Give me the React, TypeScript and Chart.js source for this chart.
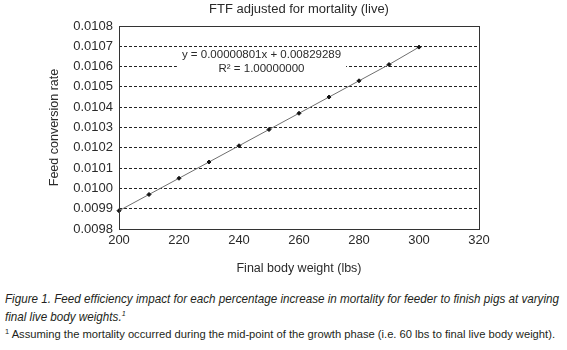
import React, { useEffect, useRef } from "react";
import { Chart, registerables } from "chart.js";

Chart.register(...registerables);

const weights = [200, 210, 220, 230, 240, 250, 260, 270, 280, 290, 300];
const fcr = [0.00989, 0.00997, 0.01005, 0.01013, 0.01021, 0.01029, 0.01037, 0.01045, 0.01053, 0.01061, 0.010696];
const yTicks = [0.0098, 0.0099, 0.01, 0.0101, 0.0102, 0.0103, 0.0104, 0.0105, 0.0106, 0.0107, 0.0108];
const xTicks = [200, 220, 240, 260, 280, 300, 320];
const titleText = "FTF adjusted for mortality (live)";
const equationLines = ["y = 0.00000801x + 0.00829289", "R\u00b2 = 1.00000000"];
const equationAnchor = { x: 247.5, y1: 0.0106575, y2: 0.0105872 };
const xTitle = "Final body weight (lbs)";
const yTitle = "Feed conversion rate";
const captionLine1 = "Figure 1. Feed efficiency impact for each percentage increase in mortality for feeder to finish pigs at varying";
const captionLine2 = "final live body weights.";
const footnote = " Assuming the mortality occurred during the mid-point of the growth phase (i.e. 60 lbs to final live body weight).";

const TEXT = "#2a2a2a";
const FONT = "'Liberation Sans', Arial, sans-serif";

export default function App() {
  const ref = useRef<HTMLCanvasElement | null>(null);
  const l1 = useRef<HTMLSpanElement | null>(null);
  const l2 = useRef<HTMLSpanElement | null>(null);
  const l3 = useRef<HTMLSpanElement | null>(null);

  useEffect(() => {
    document.body.style.margin = "0";
    // condense caption lines to match the narrow typeface of the original
    const fit = (el: HTMLSpanElement | null, target: number, scaleOverride?: number) => {
      if (!el) return 1;
      const w = el.getBoundingClientRect().width;
      const s = scaleOverride ?? target / w;
      el.style.transform = `scaleX(${s})`;
      return s;
    };
    const s1 = fit(l1.current, 554);
    fit(l2.current, 0, s1);
    fit(l3.current, 550);

    const canvas = ref.current;
    if (!canvas) return;

    const framePlugin = {
      id: "frameAndEq",
      beforeDatasetsDraw(chart: any) {
        const { ctx, scales } = chart;
        const cx = scales.x.getPixelForValue(equationAnchor.x);
        const y1 = scales.y.getPixelForValue(equationAnchor.y1);
        const y2 = scales.y.getPixelForValue(equationAnchor.y2);
        ctx.save();
        ctx.font = `11.5px ${FONT}`;
        const w = ctx.measureText(equationLines[0]).width;
        ctx.fillStyle = "#ffffff";
        ctx.fillRect(cx - w / 2 - 5, y1 - 6, w + 10, y2 - y1 + 13);
        ctx.fillStyle = TEXT;
        ctx.textAlign = "left";
        ctx.textBaseline = "middle";
        ctx.fillText(equationLines[0], cx - w / 2, y1);
        const w2 = ctx.measureText(equationLines[1]).width;
        ctx.fillText(equationLines[1], cx - w2 / 2, y2);
        ctx.restore();
      },
      afterDraw(chart: any) {
        const { ctx, chartArea } = chart;
        ctx.save();
        ctx.strokeStyle = "#333";
        ctx.lineWidth = 1;
        ctx.setLineDash([]);
        ctx.strokeRect(
          Math.round(chartArea.left) + 0.5,
          Math.round(chartArea.top) + 0.5,
          Math.round(chartArea.right - chartArea.left),
          Math.round(chartArea.bottom - chartArea.top)
        );
        ctx.restore();
      },
    };

    const chart = new Chart(canvas, {
      type: "scatter",
      data: {
        datasets: [
          {
            data: weights.map((w, i) => ({ x: w, y: fcr[i] })),
            showLine: true,
            clip: false,
            borderColor: "#6f6f6f",
            borderWidth: 1,
            pointBackgroundColor: "#111",
            pointBorderColor: "#111",
            pointRadius: 2,
            pointStyle: "rectRot",
          },
        ],
      },
      options: {
        animation: false,
        responsive: false,
        devicePixelRatio: 1,
        layout: { padding: { left: 47, right: 88, top: 0, bottom: 0 } },
        plugins: {
          legend: { display: false },
          tooltip: { enabled: false },
          title: {
            display: true,
            text: titleText,
            fullSize: false,
            color: TEXT,
            font: { family: FONT, size: 13, weight: "normal" },
            padding: { top: 2, bottom: 8.4 },
          },
        },
        scales: {
          x: {
            type: "linear",
            min: 200,
            max: 320,
            afterBuildTicks: (s: any) => {
              s.ticks = xTicks.map((v) => ({ value: v }));
            },
            afterFit: (s: any) => {
              s.height = 56;
            },
            grid: { display: false, drawTicks: false },
            border: { display: false },
            ticks: {
              color: TEXT,
              font: { family: FONT, size: 13 },
              padding: 4,
              maxRotation: 0,
            },
            title: {
              display: true,
              text: xTitle,
              color: TEXT,
              font: { family: FONT, size: 12.5 },
              padding: { top: 0, bottom: 9 },
            },
          },
          y: {
            type: "linear",
            min: 0.0098,
            max: 0.0108,
            afterBuildTicks: (s: any) => {
              s.ticks = yTicks.map((v) => ({ value: v }));
            },
            afterFit: (s: any) => {
              s.width = 72;
            },
            grid: { color: "#222", lineWidth: 1, drawTicks: false },
            border: { display: false, dash: [3, 2] },
            ticks: {
              color: TEXT,
              font: { family: FONT, size: 13 },
              padding: 6,
              callback: (v: any) => Number(v).toFixed(4),
            },
            title: {
              display: true,
              text: yTitle,
              color: TEXT,
              font: { family: FONT, size: 12.5 },
              padding: { top: 0, bottom: 0 },
            },
          },
        },
      },
      plugins: [framePlugin],
    } as any);

    return () => chart.destroy();
  }, []);

  const lineStyle: React.CSSProperties = {
    display: "inline-block",
    whiteSpace: "nowrap",
    transformOrigin: "0 50%",
  };

  return (
    <div style={{ position: "absolute", left: 0, top: 0, width: 567, height: 350, background: "#fff", overflow: "hidden" }}>
      <canvas ref={ref} width={567} height={285} style={{ position: "absolute", left: 0, top: 0 }} />
      <div
        style={{
          position: "absolute",
          left: 5,
          top: 290,
          width: 600,
          fontFamily: FONT,
          color: "#231f20",
        }}
      >
        <div style={{ fontStyle: "italic", fontSize: 13, lineHeight: "18px", height: 18 }}>
          <span ref={l1} style={lineStyle}>{captionLine1}</span>
        </div>
        <div style={{ fontStyle: "italic", fontSize: 13, lineHeight: "18px", height: 18 }}>
          <span ref={l2} style={lineStyle}>
            {captionLine2}
            <sup style={{ fontSize: 8, lineHeight: 0, verticalAlign: "5px" }}>1</sup>
          </span>
        </div>
        <div style={{ fontSize: 10.5, lineHeight: "16px", height: 16 }}>
          <span ref={l3} style={lineStyle}>
            <sup style={{ fontSize: 7, lineHeight: 0, verticalAlign: "4px" }}>1</sup>
            {footnote}
          </span>
        </div>
      </div>
    </div>
  );
}
